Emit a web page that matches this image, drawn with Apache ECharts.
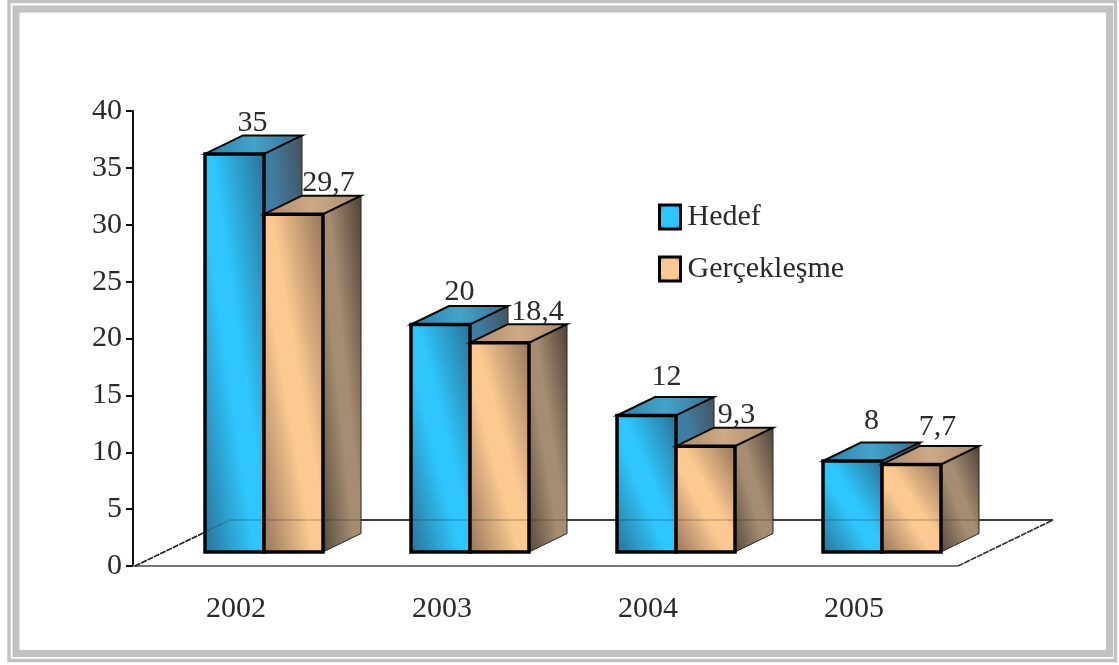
<!DOCTYPE html>
<html>
<head>
<meta charset="utf-8">
<style>
html,body{margin:0;padding:0;background:#fff}
#chart{width:1119px;height:665px}
</style>
<script src="https://cdn.jsdelivr.net/npm/echarts@6/dist/echarts.min.js"></script>
</head>
<body>
<div id="chart"></div>
<script>
// Chart data
const years = ['2002', '2003', '2004', '2005'];
const hedef = [35, 20, 12, 8];
const gerceklesme = [29.7, 18.4, 9.3, 7.7];
const yTicks = { min: 0, max: 40, interval: 5 };

// Nudges for the value labels: [dx, dy] away from the top-back edge of each box
const hedefNudge = [[-1, -2], [0, -4], [1, -10], [0, -11]];
const gercekNudge = [[16, -3], [19, -2], [12, -3], [7, -9]];

// Pseudo-3D geometry, in pixels
const FONT = '"Liberation Serif", "Times New Roman", serif';
const BAR_W = 59;
const BAR_DEPTH = [38, -18.5];
const FLOOR_DEPTH = [95, -46];
const BASE_SHIFT = [28, -14];

const palette = {
  hedef: {
    front: ['#2a7299', '#2ec6fc', '#2a7299'],
    side: ['#3c93bd', '#3f7ea3', '#45525e'],
    top: ['#2f7fa6', '#44a3c9', '#38708f']
  },
  gercek: {
    front: ['#96765a', '#fcc993', '#96765a'],
    side: ['#574a3d', '#a58c72', '#4f4337'],
    top: ['#a98a6c', '#cfa985', '#a88a6e']
  }
};

// Gradient whose bright band runs along the box diagonal, top-left to bottom-right
function diagonalGradient(x, y, w, h, colors) {
  const len = Math.hypot(w, h);
  const dx = h / len, dy = -w / len;
  const vx = -w / 2, vy = h / 2;
  const p = vx * dx + vy * dy;
  const cx = x + w / 2, cy = y + h / 2;
  return {
    type: 'linear', global: true,
    x: cx + p * dx, y: cy + p * dy,
    x2: cx - p * dx, y2: cy - p * dy,
    colorStops: [
      { offset: 0, color: colors[0] },
      { offset: 0.42, color: colors[1] },
      { offset: 0.56, color: colors[1] },
      { offset: 1, color: colors[2] }
    ]
  };
}

function linearAcross(x1, x2, colors) {
  return {
    type: 'linear', global: true, x: x1, y: 0, x2: x2, y2: 0,
    colorStops: [
      { offset: 0, color: colors[0] },
      { offset: 0.5, color: colors[1] },
      { offset: 1, color: colors[2] }
    ]
  };
}

// Draws one box; barSlot 0 sits left of the category's shifted centre, 1 right of it
function boxRenderer(barSlot, colors, nudges) {
  return function (params, api) {
    const i = api.value(0);
    const v = api.value(1);
    const [cx, y0] = api.coord([i, 0]);
    const yTop = api.coord([i, v])[1] + BASE_SHIFT[1];
    const base = y0 + BASE_SHIFT[1];
    const x = cx + BASE_SHIFT[0] - BAR_W + barSlot * BAR_W;
    const h = base - yTop;
    const [ddx, ddy] = BAR_DEPTH;
    const nudge = nudges[i];
    const children = [
      {
        type: 'polygon',
        shape: { points: [[x + BAR_W, yTop], [x + BAR_W + ddx, yTop + ddy], [x + BAR_W + ddx, base + ddy], [x + BAR_W, base]] },
        style: { fill: diagonalGradient(x + BAR_W, yTop + ddy, ddx, h - ddy, colors.side), stroke: '#2a2520', lineWidth: 1 }
      },
      {
        type: 'polygon',
        shape: { points: [[x, yTop], [x + ddx, yTop + ddy], [x + BAR_W + ddx, yTop + ddy], [x + BAR_W, yTop]] },
        style: { fill: linearAcross(x, x + BAR_W + ddx, colors.top), stroke: '#0c0a08', lineWidth: 2, lineJoin: 'miter' }
      },
      {
        type: 'rect',
        shape: { x: x, y: yTop, width: BAR_W, height: h },
        style: { fill: diagonalGradient(x, yTop, BAR_W, h, colors.front), stroke: '#050505', lineWidth: 3.5 }
      },
      {
        type: 'text',
        style: {
          text: String(v).replace('.', ','),
          x: x + BAR_W / 2 + ddx / 2 + nudge[0],
          y: yTop + ddy + nudge[1] + 5,
          align: 'center', verticalAlign: 'bottom',
          font: '30px ' + FONT, fill: '#2a2a2a'
        }
      }
    ];
    return { type: 'group', children };
  };
}

// Floor outline: back edge and both receding edges (the front edge is the category axis)
function floorRenderer(params, api) {
  const c = params.coordSys;
  const y = c.y + c.height;
  const lx = c.x + 2, rx = c.x + c.width + 1;
  const line = (x1, y1, x2, y2, stroke, dash) => ({
    type: 'line', shape: { x1, y1, x2, y2 },
    style: { stroke, lineWidth: 1.6, lineDash: dash || null }
  });
  return {
    type: 'group',
    children: [
      line(lx + FLOOR_DEPTH[0], y + FLOOR_DEPTH[1], rx + FLOOR_DEPTH[0], y + FLOOR_DEPTH[1], '#111'),
      line(lx, y, lx + FLOOR_DEPTH[0], y + FLOOR_DEPTH[1], '#222', [6, 1]),
      line(rx, y, rx + FLOOR_DEPTH[0], y + FLOOR_DEPTH[1], '#333', [6, 1])
    ]
  };
}

function frameRect(x, y, w, h, lineWidth) {
  return { type: 'rect', silent: true, z: -1, shape: { x, y, width: w, height: h },
    style: { fill: 'none', stroke: '#c2c2c2', lineWidth } };
}

const legendSwatch = (colors) => ({
  color: { type: 'radial', x: 0.5, y: 0.5, r: 0.75, colorStops: [
    { offset: 0, color: colors[1] }, { offset: 0.55, color: colors[1] }, { offset: 1, color: colors[0] }
  ] },
  borderColor: '#050505', borderWidth: 3
});

const chart = echarts.init(document.getElementById('chart'), null, { renderer: 'canvas' });
chart.setOption({
  animation: false,
  backgroundColor: '#ffffff',
  graphic: [
    frameRect(9, 1.5, 1106.5, 659, 3.5),
    frameRect(16, 9, 1093.5, 644.5, 7)
  ],
  grid: { left: 133, top: 111, width: 824, height: 455 },
  legend: {
    orient: 'vertical', left: 653, top: 197, itemWidth: 21, itemHeight: 24, itemGap: 22,
    icon: 'rect', selectedMode: false,
    textStyle: { fontFamily: FONT, fontSize: 30, color: '#2a2a2a', padding: [0, 0, 0, 2] },
    data: [
      { name: 'Hedef', itemStyle: legendSwatch(palette.hedef.front) },
      { name: 'Gerçekleşme', itemStyle: legendSwatch(palette.gercek.front) }
    ]
  },
  xAxis: {
    type: 'category', data: years,
    axisTick: { show: false },
    axisLine: { lineStyle: { color: '#777', width: 2 } },
    axisLabel: { fontFamily: FONT, fontSize: 30, color: '#2a2a2a', margin: 28 }
  },
  yAxis: {
    type: 'value', min: yTicks.min, max: yTicks.max, interval: yTicks.interval,
    splitLine: { show: false },
    axisLine: { show: true, lineStyle: { color: '#111', width: 2 } },
    axisTick: { show: true, length: 7, lineStyle: { color: '#111', width: 2 } },
    axisLabel: { fontFamily: FONT, fontSize: 30, color: '#2a2a2a', margin: 11 }
  },
  series: [
    { name: 'floor', type: 'custom', coordinateSystem: 'cartesian2d', z: 1, clip: false, silent: true,
      renderItem: floorRenderer, data: [[0, 0]] },
    { name: 'Hedef', type: 'custom', coordinateSystem: 'cartesian2d', z: 2, clip: false,
      itemStyle: { color: palette.hedef.front[1] },
      renderItem: boxRenderer(0, palette.hedef, hedefNudge),
      encode: { x: 0, y: 1 }, data: hedef.map((v, i) => [i, v]) },
    { name: 'Gerçekleşme', type: 'custom', coordinateSystem: 'cartesian2d', z: 3, clip: false,
      itemStyle: { color: palette.gercek.front[1] },
      renderItem: boxRenderer(1, palette.gercek, gercekNudge),
      encode: { x: 0, y: 1 }, data: gerceklesme.map((v, i) => [i, v]) },
    // The floor shows faintly through the boxes
    { name: 'floorOverlay', type: 'custom', coordinateSystem: 'cartesian2d', z: 4, clip: false, silent: true,
      renderItem: function (params, api) {
        const g = floorRenderer(params, api);
        g.children.forEach(c => { c.style.opacity = 0.22; });
        return g;
      }, data: [[0, 0]] }
  ]
});
</script>
</body>
</html>
